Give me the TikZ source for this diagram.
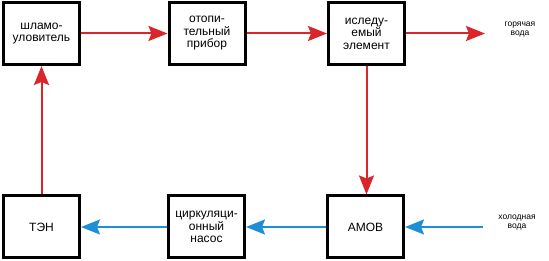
\documentclass[tikz,border=0pt]{standalone}
\usepackage{fontspec}
\setmainfont{Liberation Sans}
\usetikzlibrary{arrows.meta}
\definecolor{hotred}{RGB}{218,37,43}
\definecolor{coldblue}{RGB}{30,142,214}
\begin{document}
\begin{tikzpicture}[x=1pt,y=1pt,
  blockbox/.style={draw=black,line width=3pt,minimum width=76pt,minimum height=62pt,inner sep=0pt,
    align=center,font=\fontsize{12}{12.5}\selectfont},
  lbl/.style={align=center,font=\fontsize{8.5}{9}\selectfont,inner sep=0pt},
  hot/.style={draw=hotred,line width=2pt,-{Stealth[length=19pt,width=15pt,inset=3pt,fill=hotred]}},
  cold/.style={draw=coldblue,line width=2pt,-{Stealth[length=19pt,width=15pt,inset=3pt,fill=coldblue]}}]
\useasboundingbox (0,0) rectangle (549,261);
\node[blockbox] (slam) at (41.5,227.5) {шламо-\\уловитель};
\node[blockbox] (otop) at (207,227.5) {отопи-\\тельный\\прибор};
\node[blockbox] (issl) at (366.5,227.5) {иследу-\\емый\\элемент};
\node[blockbox] (ten) at (41.5,34) {ТЭН};
\node[blockbox] (circ) at (206.5,34) {циркуляци-\\онный\\насос};
\node[blockbox] (amov) at (365.5,34) {АМОВ};
\coordinate (hotend) at (485,227.5);
\coordinate (coldstart) at (483,34);
\node[lbl] (hotlbl) at (520,231) {горячая\\вода};
\node[lbl] (coldlbl) at (517,38) {холодная\\вода};
\draw[hot] (slam) -- (otop);
\draw[hot] (otop) -- (issl);
\draw[hot] (issl) -- (hotend);
\draw[hot] (issl.south) -- (amov.north -| issl.south);
\draw[hot] (ten) -- (slam);
\draw[cold] (coldstart) -- (amov);
\draw[cold] (amov) -- (circ);
\draw[cold] (circ) -- (ten);
\end{tikzpicture}
\end{document}
